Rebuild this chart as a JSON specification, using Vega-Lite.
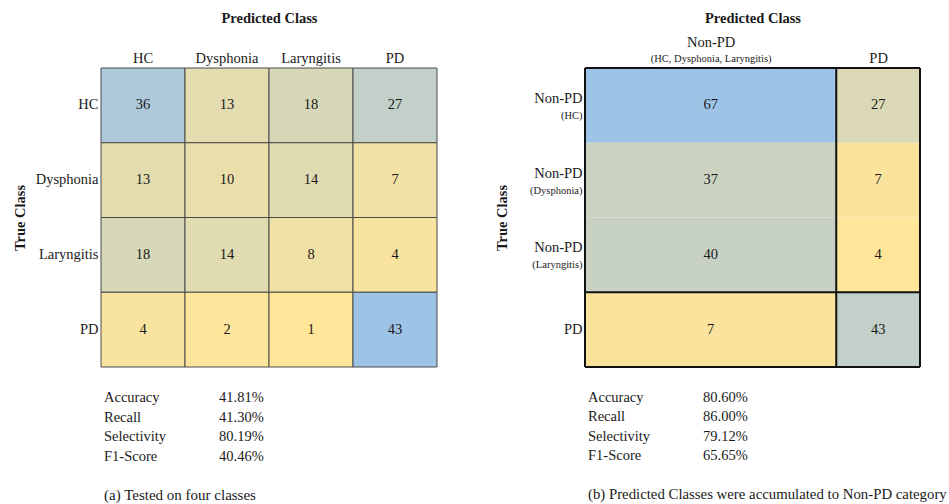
{
  "$schema": "https://vega.github.io/schema/vega-lite/v6.json",
  "background": "white",
  "padding": {"left": 12, "top": 10, "right": 0, "bottom": 2},
  "config": {
    "font": "Liberation Serif",
    "view": {"stroke": null},
    "axis": {"domain": false, "ticks": false, "tickSize": 0, "grid": false, "labelFont": "Liberation Serif", "labelFontSize": 14.5, "labelColor": "#1a1a1a", "titleFont": "Liberation Serif", "titleFontSize": 14.5, "titleColor": "#1a1a1a"},
    "text": {"font": "Liberation Serif", "fontSize": 14.5, "color": "#1a1a1a"},
    "title": {"font": "Liberation Serif", "color": "#1a1a1a"}
  },
  "datasets": {
    "matrixA": [
      {"true": "HC", "predicted": "HC", "count": 36},
      {"true": "HC", "predicted": "Dysphonia", "count": 13},
      {"true": "HC", "predicted": "Laryngitis", "count": 18},
      {"true": "HC", "predicted": "PD", "count": 27},
      {"true": "Dysphonia", "predicted": "HC", "count": 13},
      {"true": "Dysphonia", "predicted": "Dysphonia", "count": 10},
      {"true": "Dysphonia", "predicted": "Laryngitis", "count": 14},
      {"true": "Dysphonia", "predicted": "PD", "count": 7},
      {"true": "Laryngitis", "predicted": "HC", "count": 18},
      {"true": "Laryngitis", "predicted": "Dysphonia", "count": 14},
      {"true": "Laryngitis", "predicted": "Laryngitis", "count": 8},
      {"true": "Laryngitis", "predicted": "PD", "count": 4},
      {"true": "PD", "predicted": "HC", "count": 4},
      {"true": "PD", "predicted": "Dysphonia", "count": 2},
      {"true": "PD", "predicted": "Laryngitis", "count": 1},
      {"true": "PD", "predicted": "PD", "count": 43}
    ],
    "matrixB": [
      {"true": "HC", "predicted": "Non-PD", "classes": 3, "count": 67},
      {"true": "HC", "predicted": "PD", "classes": 1, "count": 27},
      {"true": "Dysphonia", "predicted": "Non-PD", "classes": 3, "count": 37},
      {"true": "Dysphonia", "predicted": "PD", "classes": 1, "count": 7},
      {"true": "Laryngitis", "predicted": "Non-PD", "classes": 3, "count": 40},
      {"true": "Laryngitis", "predicted": "PD", "classes": 1, "count": 4},
      {"true": "PD", "predicted": "Non-PD", "classes": 3, "count": 7},
      {"true": "PD", "predicted": "PD", "classes": 1, "count": 43}
    ],
    "metrics": [
      {"panel": "a", "metric": "Accuracy", "value": 0.4181},
      {"panel": "a", "metric": "Recall", "value": 0.4130},
      {"panel": "a", "metric": "Selectivity", "value": 0.8019},
      {"panel": "a", "metric": "F1-Score", "value": 0.4046},
      {"panel": "b", "metric": "Accuracy", "value": 0.8060},
      {"panel": "b", "metric": "Recall", "value": 0.8600},
      {"panel": "b", "metric": "Selectivity", "value": 0.7912},
      {"panel": "b", "metric": "F1-Score", "value": 0.6565}
    ]
  },
  "spacing": 56,
  "resolve": {"scale": {"color": "independent"}},
  "hconcat": [
    {
      "spacing": 20.5,
      "vconcat": [
        {
          "width": 336,
          "height": 299,
          "data": {"name": "matrixA"},
          "encoding": {
            "x": {"field": "predicted", "type": "nominal", "scale": {"domain": ["HC", "Dysphonia", "Laryngitis", "PD"], "paddingInner": 0, "paddingOuter": 0},
                  "axis": {"orient": "top", "title": "Predicted Class", "titleFontWeight": "bold", "labelAngle": 0, "labelPadding": 3, "titlePadding": 24.5}},
            "y": {"field": "true", "type": "nominal", "scale": {"domain": ["HC", "Dysphonia", "Laryngitis", "PD"], "paddingInner": 0, "paddingOuter": 0},
                  "axis": {"orient": "left", "title": "True Class", "titleFontWeight": "bold", "labelPadding": 3, "titlePadding": 8}}
          },
          "layer": [
            {
              "mark": {"type": "rect", "stroke": "#4a4a4a", "strokeWidth": 1},
              "encoding": {
                "color": {"field": "count", "type": "quantitative", "scale": {"domain": [1, 43], "range": ["#ffe699", "#9dc3e6"], "interpolate": "rgb", "zero": false, "nice": false}, "legend": null}
              }
            },
            {
              "mark": {"type": "text", "baseline": "middle"},
              "encoding": {"text": {"field": "count", "type": "quantitative"}}
            }
          ]
        },
        {
          "width": 115,
          "height": 78,
          "data": {"name": "metrics"},
          "transform": [{"filter": "datum.panel == 'a'"}],
          "title": {"text": "(a) Tested on four classes", "orient": "bottom", "anchor": "start", "offset": 21, "dx": 3, "fontSize": 15, "fontWeight": "normal"},
          "encoding": {
            "y": {"field": "metric", "type": "nominal", "sort": ["Accuracy", "Recall", "Selectivity", "F1-Score"], "scale": {"padding": 0.5}, "axis": null}
          },
          "layer": [
            {
              "mark": {"type": "text", "align": "left", "dx": 3},
              "encoding": {
                "x": {"datum": "metric", "type": "nominal", "scale": {"domain": ["metric", "value"], "padding": 0}, "axis": null},
                "text": {"field": "metric", "type": "nominal"}
              }
            },
            {
              "mark": {"type": "text", "align": "left", "dx": 3},
              "encoding": {
                "x": {"datum": "value", "type": "nominal", "axis": null},
                "text": {"field": "value", "type": "quantitative", "format": ".2%"}
              }
            }
          ]
        }
      ]
    },
    {
      "spacing": 20,
      "vconcat": [
        {
          "width": 335,
          "height": 299,
          "data": {"name": "matrixB"},
          "resolve": {"axis": {"x": "independent", "y": "independent"}},
          "layer": [
            {
              "mark": {"type": "bar", "strokeWidth": 0},
              "encoding": {
                "x": {"field": "classes", "type": "quantitative", "stack": "zero", "scale": {"domain": [0, 4], "nice": false},
                      "axis": {"orient": "top", "title": "Predicted Class", "titleFontWeight": "bold", "values": [1.5, 3.5], "labelExpr": "datum.value < 3 ? 'Non-PD' : 'PD'", "labelPadding": {"condition": {"test": "datum.value < 3", "value": 19}, "value": 3}, "labelFlush": false, "labelOverlap": false, "titlePadding": 9}},
                "y": {"field": "true", "type": "nominal", "scale": {"domain": ["HC", "Dysphonia", "Laryngitis", "PD"], "paddingInner": 0, "paddingOuter": 0},
                      "axis": {"orient": "left", "title": "True Class", "titleFontWeight": "bold", "labelExpr": "datum.value == 'PD' ? 'PD' : 'Non-PD'", "labelOffset": {"condition": {"test": "datum.value != 'PD'", "value": -6.5}, "value": 0}, "labelPadding": 3, "titlePadding": 24}},
                "order": {"field": "predicted", "type": "ordinal"},
                "color": {"field": "count", "type": "quantitative", "scale": {"domain": [4, 67], "range": ["#ffe699", "#9dc3e6"], "interpolate": "rgb", "zero": false, "nice": false}, "legend": null}
              }
            },
            {
              "mark": {"type": "text", "baseline": "middle"},
              "encoding": {
                "x": {"field": "classes", "type": "quantitative", "stack": "zero", "bandPosition": 0.5,
                      "axis": {"orient": "top", "title": null, "values": [1.5], "labelExpr": "'(HC, Dysphonia, Laryngitis)'", "labelFontSize": 10.5, "labelPadding": 5, "labelFlush": false}},
                "y": {"field": "true", "type": "nominal",
                      "axis": {"orient": "left", "title": null, "labelExpr": "datum.value == 'PD' ? '' : '(' + datum.value + ')'", "labelFontSize": 10.5, "labelOffset": 10.5, "labelPadding": 3}},
                "order": {"field": "predicted", "type": "ordinal"},
                "text": {"field": "count", "type": "quantitative"}
              }
            },
            {"data": {"values": [{}]}, "mark": {"type": "rule", "color": "#111111", "strokeWidth": 2}, "encoding": {"x": {"datum": 0, "type": "quantitative", "axis": null}}},
            {"data": {"values": [{}]}, "mark": {"type": "rule", "color": "#111111", "strokeWidth": 2}, "encoding": {"x": {"datum": 3, "type": "quantitative", "axis": null}}},
            {"data": {"values": [{}]}, "mark": {"type": "rule", "color": "#111111", "strokeWidth": 2}, "encoding": {"x": {"datum": 4, "type": "quantitative", "axis": null}}},
            {"data": {"values": [{}]}, "mark": {"type": "rule", "color": "#111111", "strokeWidth": 2}, "encoding": {"y": {"datum": "HC", "type": "nominal", "bandPosition": 0, "axis": null}}},
            {"data": {"values": [{}]}, "mark": {"type": "rule", "color": "#111111", "strokeWidth": 2}, "encoding": {"y": {"datum": "PD", "type": "nominal", "bandPosition": 0, "axis": null}}},
            {"data": {"values": [{}]}, "mark": {"type": "rule", "color": "#111111", "strokeWidth": 2}, "encoding": {"y": {"datum": "PD", "type": "nominal", "bandPosition": 1, "axis": null}}}
          ]
        },
        {
          "width": 115,
          "height": 78,
          "data": {"name": "metrics"},
          "transform": [{"filter": "datum.panel == 'b'"}],
          "title": {"text": "(b) Predicted Classes were accumulated to Non-PD category", "orient": "bottom", "anchor": "start", "offset": 21, "dx": 3, "fontSize": 14.8, "fontWeight": "normal"},
          "encoding": {
            "y": {"field": "metric", "type": "nominal", "sort": ["Accuracy", "Recall", "Selectivity", "F1-Score"], "scale": {"padding": 0.5}, "axis": null}
          },
          "layer": [
            {
              "mark": {"type": "text", "align": "left", "dx": 3},
              "encoding": {
                "x": {"datum": "metric", "type": "nominal", "scale": {"domain": ["metric", "value"], "padding": 0}, "axis": null},
                "text": {"field": "metric", "type": "nominal"}
              }
            },
            {
              "mark": {"type": "text", "align": "left", "dx": 3},
              "encoding": {
                "x": {"datum": "value", "type": "nominal", "axis": null},
                "text": {"field": "value", "type": "quantitative", "format": ".2%"}
              }
            }
          ]
        }
      ]
    }
  ]
}
